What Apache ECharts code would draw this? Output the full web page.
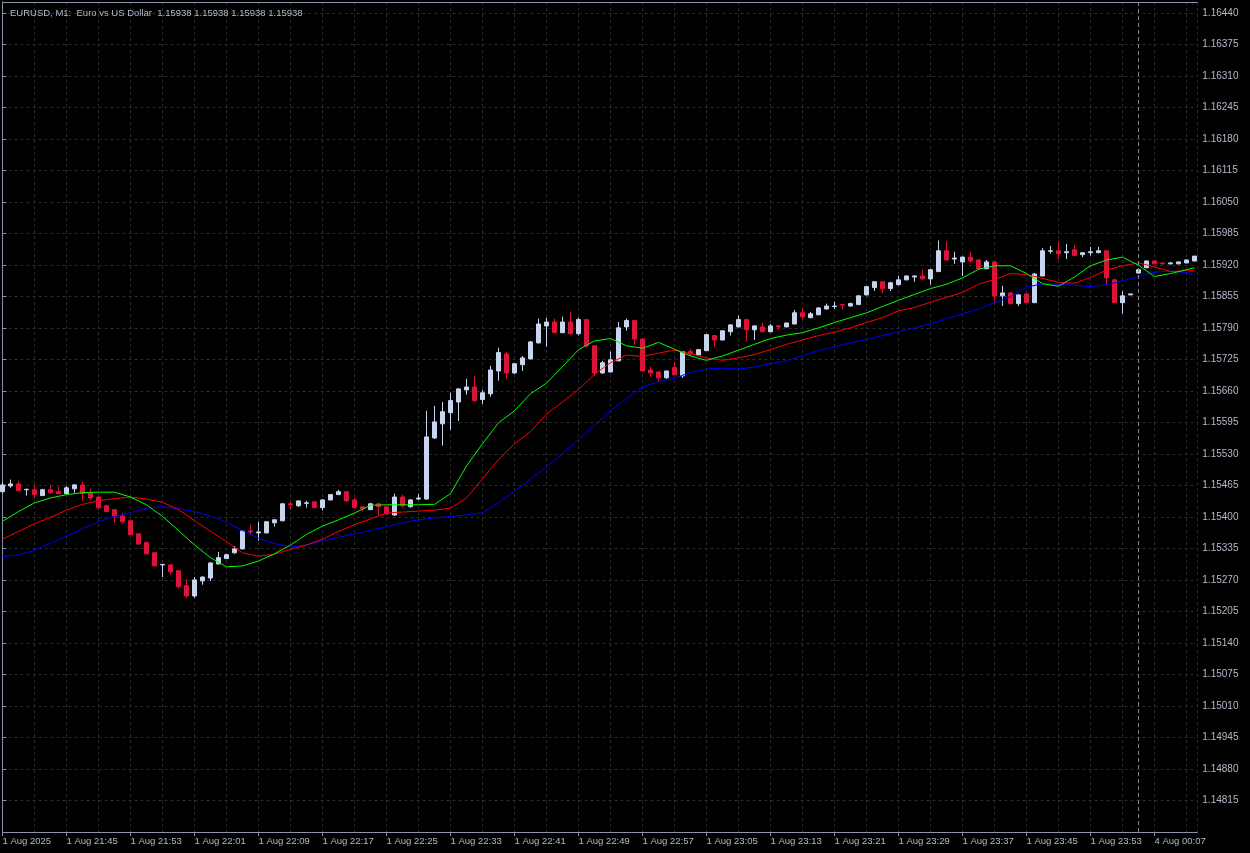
<!DOCTYPE html>
<html><head><meta charset="utf-8">
<script src="https://cdn.jsdelivr.net/npm/echarts@6/dist/echarts.min.js"></script>
<style>html,body{margin:0;padding:0;background:#000;}#c{width:1250px;height:853px;}</style>
</head><body><div id="c"></div>
<script>
const chartTitle = 'EURUSD, M1:  Euro vs US Dollar  1.15938 1.15938 1.15938 1.15938';
// one label every 8 bars (bar 0, 8, 16, ...)
const timeLabels = ['1 Aug 2025','1 Aug 21:45','1 Aug 21:53','1 Aug 22:01','1 Aug 22:09','1 Aug 22:17','1 Aug 22:25','1 Aug 22:33','1 Aug 22:41','1 Aug 22:49','1 Aug 22:57','1 Aug 23:05','1 Aug 23:13','1 Aug 23:21','1 Aug 23:29','1 Aug 23:37','1 Aug 23:45','1 Aug 23:53','4 Aug 00:07'];
const priceLabels = ['1.14815','1.14880','1.14945','1.15010','1.15075','1.15140','1.15205','1.15270','1.15335','1.15400','1.15465','1.15530','1.15595','1.15660','1.15725','1.15790','1.15855','1.15920','1.15985','1.16050','1.16115','1.16180','1.16245','1.16310','1.16375','1.16440'];

const open = [
1.15452,1.15464,1.15468,1.15456,1.15456,1.15444,1.15456,1.15452,1.15448,1.15458,
1.15466,1.15450,1.15441,1.15423,1.15415,1.15402,1.15392,1.15365,1.15347,1.15326,
1.15301,1.15301,1.15289,1.15258,1.15237,1.15268,1.15274,1.15303,1.15314,1.15326,
1.15334,1.15371,1.15367,1.15367,1.15388,1.15392,1.15427,1.15423,1.15428,1.15431,
1.15419,1.15435,1.15446,1.15452,1.15435,1.15421,1.15415,1.15427,1.15421,1.15404,
1.15441,1.15421,1.15437,1.15437,1.15563,1.15592,1.15615,1.15637,1.15662,1.15668,
1.15642,1.15654,1.15701,1.15736,1.15697,1.15714,1.15726,1.15759,1.15794,1.15802,
1.15780,1.15802,1.15778,1.15807,1.15753,1.15697,1.15699,1.15722,1.15792,1.15805,
1.15767,1.15703,1.15699,1.15687,1.15708,1.15691,1.15741,1.15734,1.15743,1.15774,
1.15765,1.15782,1.15792,1.15807,1.15786,1.15792,1.15782,1.15794,1.15792,1.15798,
1.15821,1.15811,1.15817,1.15829,1.15834,1.15838,1.15835,1.15838,1.15858,1.15873,
1.15885,1.15871,1.15879,1.15889,1.15895,1.15897,1.15891,1.15906,1.15949,1.15932,
1.15926,1.15936,1.15930,1.15912,1.15926,1.15856,1.15862,1.15840,1.15860,1.15842,
1.15897,1.15948,1.15949,1.15945,1.15951,1.15941,1.15945,1.15945,1.15949,1.15889,
1.15842,1.15858,1.15903,1.15914,1.15928,1.15924,1.15922,1.15922,1.15924,1.15928];
const close = [
1.15466,1.15468,1.15454,1.15457,1.15446,1.15456,1.15450,1.15448,1.15460,1.15466,
1.15448,1.15439,1.15419,1.15411,1.15402,1.15390,1.15363,1.15344,1.15324,1.15299,
1.15302,1.15287,1.15256,1.15237,1.15270,1.15276,1.15305,1.15316,1.15322,1.15334,
1.15371,1.15369,1.15369,1.15390,1.15394,1.15427,1.15425,1.15433,1.15429,1.15419,
1.15435,1.15446,1.15452,1.15433,1.15419,1.15417,1.15427,1.15421,1.15406,1.15441,
1.15423,1.15435,1.15439,1.15565,1.15596,1.15617,1.15640,1.15664,1.15668,1.15640,
1.15656,1.15703,1.15739,1.15697,1.15716,1.15728,1.15761,1.15798,1.15802,1.15780,
1.15802,1.15778,1.15807,1.15753,1.15697,1.15718,1.15724,1.15790,1.15805,1.15767,
1.15701,1.15697,1.15687,1.15701,1.15693,1.15741,1.15736,1.15745,1.15776,1.15765,
1.15784,1.15796,1.15807,1.15786,1.15794,1.15782,1.15794,1.15792,1.15800,1.15821,
1.15813,1.15819,1.15831,1.15835,1.15835,1.15837,1.15840,1.15856,1.15875,1.15885,
1.15871,1.15883,1.15889,1.15897,1.15897,1.15891,1.15910,1.15949,1.15930,1.15934,
1.15936,1.15928,1.15912,1.15926,1.15856,1.15862,1.15840,1.15858,1.15842,1.15901,
1.15949,1.15949,1.15943,1.15947,1.15939,1.15945,1.15947,1.15949,1.15893,1.15842,
1.15856,1.15860,1.15910,1.15928,1.15922,1.15922,1.15924,1.15926,1.15930,1.15938];
const low = [
1.15450,1.15460,1.15453,1.15444,1.15439,1.15443,1.15448,1.15447,1.15447,1.15450,
1.15433,1.15435,1.15415,1.15410,1.15388,1.15386,1.15362,1.15343,1.15322,1.15298,
1.15276,1.15281,1.15252,1.15233,1.15233,1.15260,1.15268,1.15302,1.15313,1.15324,
1.15333,1.15363,1.15351,1.15366,1.15380,1.15391,1.15415,1.15421,1.15419,1.15418,
1.15413,1.15434,1.15445,1.15431,1.15418,1.15411,1.15414,1.15404,1.15404,1.15402,
1.15419,1.15419,1.15435,1.15435,1.15561,1.15547,1.15580,1.15598,1.15652,1.15637,
1.15633,1.15648,1.15681,1.15685,1.15695,1.15701,1.15725,1.15758,1.15751,1.15779,
1.15779,1.15776,1.15774,1.15749,1.15691,1.15695,1.15698,1.15721,1.15784,1.15755,
1.15700,1.15689,1.15679,1.15685,1.15692,1.15687,1.15732,1.15732,1.15742,1.15751,
1.15764,1.15774,1.15791,1.15763,1.15765,1.15781,1.15781,1.15786,1.15791,1.15797,
1.15807,1.15810,1.15816,1.15828,1.15829,1.15829,1.15834,1.15837,1.15857,1.15866,
1.15862,1.15866,1.15878,1.15888,1.15885,1.15890,1.15879,1.15905,1.15929,1.15922,
1.15897,1.15924,1.15911,1.15911,1.15844,1.15835,1.15838,1.15835,1.15841,1.15841,
1.15896,1.15943,1.15932,1.15932,1.15938,1.15936,1.15939,1.15944,1.15879,1.15841,
1.15819,1.15858,1.15902,1.15913,1.15921,1.15921,1.15921,1.15921,1.15923,1.15927];
const high = [
1.15472,1.15477,1.15474,1.15458,1.15464,1.15458,1.15466,1.15462,1.15464,1.15468,
1.15472,1.15458,1.15442,1.15425,1.15416,1.15408,1.15393,1.15367,1.15349,1.15327,
1.15303,1.15302,1.15290,1.15272,1.15276,1.15277,1.15306,1.15328,1.15324,1.15340,
1.15372,1.15384,1.15390,1.15391,1.15395,1.15428,1.15431,1.15434,1.15433,1.15432,
1.15437,1.15447,1.15456,1.15453,1.15439,1.15422,1.15429,1.15429,1.15422,1.15448,
1.15446,1.15437,1.15448,1.15619,1.15629,1.15637,1.15656,1.15666,1.15685,1.15691,
1.15662,1.15712,1.15749,1.15741,1.15717,1.15732,1.15763,1.15809,1.15811,1.15809,
1.15813,1.15823,1.15811,1.15808,1.15754,1.15722,1.15741,1.15802,1.15809,1.15806,
1.15768,1.15710,1.15700,1.15702,1.15720,1.15742,1.15747,1.15746,1.15777,1.15775,
1.15785,1.15798,1.15815,1.15808,1.15795,1.15800,1.15798,1.15795,1.15801,1.15827,
1.15831,1.15823,1.15833,1.15840,1.15844,1.15840,1.15842,1.15857,1.15876,1.15886,
1.15886,1.15885,1.15897,1.15898,1.15898,1.15910,1.15911,1.15970,1.15968,1.15947,
1.15937,1.15947,1.15931,1.15930,1.15927,1.15877,1.15864,1.15859,1.15861,1.15903,
1.15955,1.15959,1.15968,1.15963,1.15961,1.15946,1.15957,1.15957,1.15950,1.15891,
1.15866,1.15860,1.15912,1.15929,1.15930,1.15925,1.15926,1.15927,1.15931,1.15938];

// Alligator lines, read every second bar
const lineBars = [0,2,4,6,8,10,12,14,16,18,20,22,24,26,28,30,32,34,36,38,40,42,44,46,48,50,52,54,56,58,60,62,64,66,68,70,72,74,76,78,80,82,84,86,88,90,92,94,96,98,100,102,104,106,108,110,112,114,116,118,120,122,124,126,128,130,132,134,136,138,140,142,144,146,148,149];
const lips = [
1.15391,1.15411,1.15429,1.15439,1.15446,1.15450,1.15451,1.15451,1.15441,1.15425,
1.15401,1.15372,1.15342,1.15316,1.15297,1.15299,1.15309,1.15324,1.15342,1.15364,
1.15381,1.15394,1.15408,1.15424,1.15425,1.15425,1.15425,1.15426,1.15448,1.15505,
1.15551,1.15594,1.15619,1.15654,1.15676,1.15710,1.15745,1.15763,1.15768,1.15753,
1.15748,1.15760,1.15746,1.15732,1.15723,1.15732,1.15744,1.15756,1.15768,1.15775,
1.15780,1.15790,1.15801,1.15811,1.15821,1.15834,1.15847,1.15859,1.15871,1.15880,
1.15893,1.15911,1.15918,1.15918,1.15902,1.15881,1.15876,1.15895,1.15918,1.15930,
1.15936,1.15919,1.15896,1.15902,1.15910,1.15914];
const teeth = [
1.15354,1.15370,1.15386,1.15399,1.15414,1.15426,1.15433,1.15438,1.15441,1.15437,
1.15430,1.15415,1.15392,1.15370,1.15349,1.15326,1.15319,1.15323,1.15333,1.15342,
1.15354,1.15370,1.15384,1.15396,1.15408,1.15410,1.15412,1.15414,1.15418,1.15439,
1.15479,1.15518,1.15551,1.15576,1.15612,1.15637,1.15663,1.15694,1.15718,1.15734,
1.15731,1.15738,1.15744,1.15737,1.15728,1.15723,1.15728,1.15735,1.15745,1.15756,
1.15765,1.15774,1.15781,1.15790,1.15801,1.15811,1.15825,1.15832,1.15843,1.15853,
1.15863,1.15880,1.15890,1.15902,1.15900,1.15892,1.15884,1.15882,1.15894,1.15909,
1.15918,1.15924,1.15916,1.15906,1.15908,1.15908];
const jaw = [
1.15318,1.15322,1.15331,1.15346,1.15360,1.15376,1.15390,1.15401,1.15409,1.15418,
1.15421,1.15417,1.15411,1.15402,1.15389,1.15372,1.15356,1.15345,1.15338,1.15342,
1.15351,1.15358,1.15365,1.15372,1.15380,1.15388,1.15394,1.15398,1.15401,1.15404,
1.15409,1.15429,1.15453,1.15478,1.15503,1.15530,1.15560,1.15589,1.15619,1.15644,
1.15668,1.15679,1.15686,1.15698,1.15705,1.15707,1.15705,1.15709,1.15716,1.15722,
1.15733,1.15743,1.15751,1.15759,1.15766,1.15774,1.15782,1.15790,1.15798,1.15809,
1.15819,1.15829,1.15842,1.15854,1.15874,1.15881,1.15880,1.15878,1.15875,1.15879,
1.15887,1.15896,1.15905,1.15907,1.15904,1.15899];
const separatorBar = 142;

const FG = '#b4bacb', AX = '#8c93ad', GRID = '#2b2b2b';
const UP = '#c8d5ee', DOWN = '#dc143c';
const FONT = '"Liberation Sans", Arial, sans-serif';
const yMin = 1.14750, yMax = 1.164622, yStep = 0.00065;
const xMax = 149.35;

const candles = open.map((o, i) => [i, o, close[i], low[i], high[i]]);
const pairs = arr => lineBars.map((b, i) => [b, arr[i]]);

const chart = echarts.init(document.getElementById('c'), null, {renderer: 'canvas'});
chart.setOption({
  backgroundColor: '#000000',
  animation: false,
  title: {text: chartTitle, left: 5, top: 3, textStyle: {color: FG, fontSize: 9.5, fontWeight: 'normal', fontFamily: FONT}},
  grid: {left: 2.5, right: 52.7, top: 2, bottom: 21, containLabel: false, outerBoundsMode: 'none'},
  xAxis: [
    {type: 'value', position: 'bottom', min: 0, max: xMax, interval: 8,
     axisLine: {show: true, lineStyle: {color: AX, width: 1}},
     axisTick: {show: true, length: 4, lineStyle: {color: AX}},
     axisLabel: {show: true, color: FG, fontSize: 9.5, fontFamily: FONT, align: 'left', margin: 4,
       showMaxLabel: false, hideOverlap: false,
       formatter: v => (Math.abs(v % 8) < 1e-9 && timeLabels[v / 8] !== undefined) ? timeLabels[v / 8] : ''},
     splitLine: {show: false}},
    {type: 'value', position: 'top', min: 0, max: xMax, interval: 4,
     axisLine: {show: true, lineStyle: {color: AX, width: 1}},
     axisTick: {show: false}, axisLabel: {show: false},
     splitLine: {show: true, lineStyle: {color: GRID, type: [3, 3], width: 1}}}
  ],
  yAxis: [
    {type: 'value', position: 'right', offset: 0, min: yMin, max: yMax, interval: yStep,
     axisLine: {show: true, lineStyle: {color: AX, width: 1}},
     axisTick: {show: true, length: 4, lineStyle: {color: AX}},
     axisLabel: {show: true, color: FG, fontSize: 10, fontFamily: FONT, margin: 5,
       showMinLabel: false, showMaxLabel: false,
       formatter: v => { const s = v.toFixed(5); return priceLabels.includes(s) ? s : ''; }},
     splitLine: {show: true, lineStyle: {color: GRID, type: [3, 3], width: 1}}},
    {type: 'value', position: 'left', min: yMin, max: yMax, interval: yStep,
     axisLine: {show: true, lineStyle: {color: AX, width: 1}},
     axisTick: {show: false}, axisLabel: {show: false}, splitLine: {show: false}}
  ],
  series: [
    {type: 'candlestick', name: 'EURUSD', xAxisIndex: 0, yAxisIndex: 0,
     encode: {x: 0, y: [1, 2, 3, 4]},
     data: candles, barWidth: 4, z: 2,
     itemStyle: {color: UP, color0: DOWN, borderColor: UP, borderColor0: DOWN, borderWidth: 1},
     markLine: {silent: true, symbol: ['none', 'none'], label: {show: false}, animation: false,
       lineStyle: {color: '#7f869c', type: [4, 3], width: 1},
       data: [{xAxis: separatorBar}]}},
    {type: 'line', name: 'Jaw', xAxisIndex: 0, yAxisIndex: 0, data: pairs(jaw), showSymbol: false, z: 3,
     lineStyle: {color: '#0000ff', width: 1}},
    {type: 'line', name: 'Teeth', xAxisIndex: 0, yAxisIndex: 0, data: pairs(teeth), showSymbol: false, z: 3,
     lineStyle: {color: '#ff0000', width: 1}},
    {type: 'line', name: 'Lips', xAxisIndex: 0, yAxisIndex: 0, data: pairs(lips), showSymbol: false, z: 3,
     lineStyle: {color: '#00ff00', width: 1}}
  ]
});
</script>
</body></html>
